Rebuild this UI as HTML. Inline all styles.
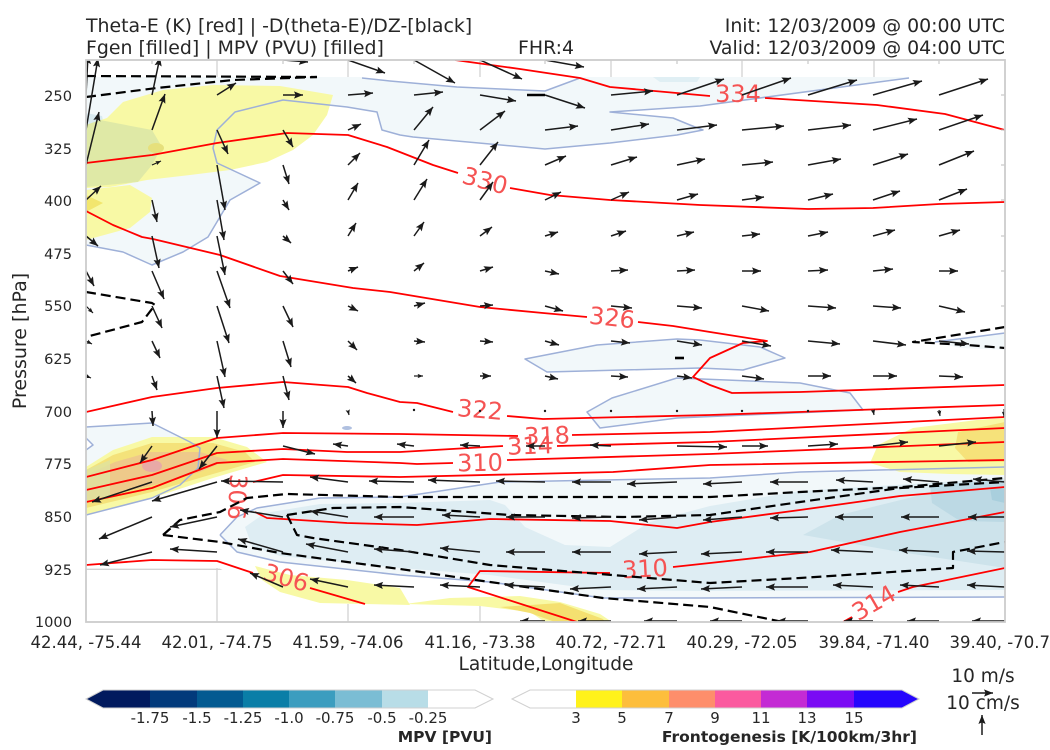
<!DOCTYPE html>
<html><head><meta charset="utf-8"><style>
html,body{margin:0;padding:0;background:#fff;}
svg{display:block;overflow:hidden;}
text{font-family:"DejaVu Sans","Liberation Sans",sans-serif;fill:#262626;}
</style></head><body>
<svg width="1050" height="750" viewBox="0 0 1050 750" xmlns="http://www.w3.org/2000/svg">
<defs>
<clipPath id="pc"><rect x="86" y="60" width="919" height="562"/></clipPath>
<marker id="ah" viewBox="-10 -5 10 10" refX="0" refY="0" markerWidth="10" markerHeight="10" markerUnits="userSpaceOnUse" orient="auto"><path d="M0,0 L-9,-3.6 L-7.4,0 L-9,3.6 Z" fill="#1a1a1a"/></marker>
<marker id="ahs" viewBox="-10 -5 10 10" refX="0" refY="0" markerWidth="6" markerHeight="6" markerUnits="userSpaceOnUse" orient="auto"><path d="M0,0 L-9,-3.6 L-7.4,0 L-9,3.6 Z" fill="#1a1a1a"/></marker>
</defs>
<rect width="1050" height="750" fill="#fff"/>

<!-- grid -->
<g stroke="#d2d2d2" stroke-width="1.3">
<line x1="217" y1="60" x2="217" y2="622"/><line x1="348" y1="60" x2="348" y2="622"/><line x1="480" y1="60" x2="480" y2="622"/><line x1="611" y1="60" x2="611" y2="622"/><line x1="742" y1="60" x2="742" y2="622"/><line x1="874" y1="60" x2="874" y2="622"/>
<line x1="86" y1="569.3" x2="1005" y2="569.3"/>
</g>
<!-- data area (white fill) -->
<path d="M86,77 L1005,77 L1005,622 L580,622 L545,615 L480,605 L348,604 L283,598 L250,586 L219,568 L86,568 Z" fill="#fff"/>

<g clip-path="url(#pc)">
<!-- MPV fills -->
<g fill="#f2f8fa">
<path d="M86,77 L362,77 L362,78 L390,81 L457,87 L545,91 L580,78 L580,77 L909,77 L909,78 L700,106 L610,112 L673,118 L690,125 L703,130 L677,135 L610,143 L545,149 L413,137 L400,135 L382,130 L377,112 L347,107 L283,100 L235,112 L217,130 L213,148 L217,163 L260,183 L230,200 L208,237 L183,252 L152,265 L123,252 L86,245 Z"/>
<path d="M86,427 L152,423 L190,442 L200,448 L198,468 L180,485 L152,498 L86,515 L86,450 L93,445 L86,438 Z"/>
<path d="M220,535 L237,517 L257,508 L320,498 L400,497 L500,482 L710,478 L800,472 L1005,467 L1005,597 L700,598 L603,598 L490,582 L400,575 L280,562 L237,552 Z"/>
<path d="M525,359 L597,345 L677,339 L700,340 L760,347 L785,358 L743,370 L700,368 L547,372 Z"/>
<path d="M587,412 L612,398 L677,378 L800,383 L850,393 L863,410 L700,417 L677,418 L600,428 Z"/>
<path d="M935,342 L1005,333 L1005,350 L960,348 Z"/>
</g>
<path d="M653,77 L700,77 L697,82 L660,82 Z" fill="#e0eff4"/>
<path d="M86,113 L102,116 L104,124 L86,128 Z" fill="#d8eaf0"/>
<!-- mid shades lower region -->
<path d="M245,527 L265,513 L320,504 L400,503 L490,500 L505,505 L525,527 L565,545 L610,547 L650,522 L710,506 L800,491 L1005,478 L1005,590 L700,591 L600,590 L490,575 L400,568 L280,556 L252,546 Z" fill="#deedf3"/>
<path d="M803,535 L840,515 L933,492 L1005,482 L1005,568 L900,552 Z" fill="#cde3eb"/>
<path d="M930,485 L1005,480 L1005,522 L960,521 L932,503 Z" fill="#bcd9e4"/>
<path d="M990,488 L1005,486 L1005,503 L992,500 Z" fill="#a9cfdd"/>
<ellipse cx="347" cy="428" rx="5" ry="2" fill="#b0c0e0"/>

<!-- Fgen fills (yellow) -->
<g fill="#f8f9a5">
<path d="M86,188 L86,125 L107,118 L123,102 L163,90 L213,85 L280,86 L333,95 L327,115 L313,135 L293,150 L267,162 L230,170 L190,175 L147,180 L110,187 Z"/>
<path d="M86,190 L130,185 L152,198 L150,212 L130,228 L86,240 Z"/>
<path d="M86,467 L113,450 L152,437 L213,437 L247,447 L267,462 L213,478 L152,498 L86,515 Z"/>
<path d="M870,463 L878,445 L913,428 L977,420 L1005,418 L1005,475 L950,474 L900,472 Z"/>
<path d="M255,566 L290,575 L347,580 L400,588 L410,605 L320,603 L280,592 L262,580 Z"/>
<path d="M405,604 L450,598 L520,596 L560,602 L600,614 L612,622 L545,622 L530,612 L480,606 Z"/>
</g>
<path d="M86,125 L100,120 L152,130 L162,147 L152,165 L138,182 L86,187 Z" fill="#dfe9a6"/>
<ellipse cx="156" cy="148" rx="8" ry="5" fill="#e6e07c"/>
<path d="M86,195 L103,203 L86,212 Z" fill="#f2e66e"/>
<path d="M86,470 L113,455 L152,443 L213,443 L245,452 L255,462 L213,474 L152,492 L86,508 Z" fill="#f4e27a"/>
<path d="M86,475 L115,462 L150,452 L200,452 L228,460 L200,472 L150,486 L110,495 L86,500 Z" fill="#eec98a"/>
<path d="M86,470 L110,460 L110,496 L86,502 Z" fill="#dfe3a0" opacity="0.8"/>
<ellipse cx="152" cy="466" rx="10" ry="6" fill="#e8a9a6"/>
<path d="M958,432 L1005,422 L1005,462 L968,462 L955,448 Z" fill="#f6e27a"/>
<path d="M500,607 L560,603 L603,619 L605,622 L555,622 L530,613 Z" fill="#f4e070"/>

<!-- MPV outlines -->
<g fill="none" stroke="#9eb0d8" stroke-width="1.5" stroke-linejoin="round">
<path d="M362,78 L390,81 L457,87 L545,91 L580,78"/>
<path d="M909,78 L700,106 L610,112 L673,118 L690,125 L703,130 L677,135 L610,143 L545,149 L413,137 L400,135 L382,130 L377,112 L347,107 L283,100 L235,112 L217,130 L213,148 L217,163 L260,183 L230,200 L208,237 L183,252 L152,265 L123,252 L86,245"/>
<path d="M86,427 L152,423 L190,442 L200,448 L198,468 L180,485 L152,498 L86,515"/>
<path d="M86,438 L93,445 L86,450"/>
<path d="M220,535 L237,517 L257,508 L320,498 L400,497 L500,482 L710,478 L800,472 L1005,467"/>
<path d="M220,535 L237,552 L280,562 L400,575 L490,582 L603,598 L700,598 L1005,597"/>
<path d="M525,359 L597,345 L677,339 L700,340 L760,347 L785,358 L743,370 L700,368 L547,372 Z"/>
<path d="M587,412 L612,398 L677,378 L800,383 L850,393 L863,410 L700,417 L677,418 L600,428 Z"/>
<path d="M935,342 L1005,333"/>
</g>

<!-- red theta-e contours -->
<g fill="none" stroke="#ff0000" stroke-width="1.8" stroke-linejoin="round">
<path d="M455,60 L520,69 L580,78 L610,87 L710,96"/>
<path d="M765,98 L877,105 L945,114 L1005,130"/>
<path d="M86,163 L152,155 L217,143 L287,133 L348,135 L387,147 L433,165 L458,173"/>
<path d="M510,188 L550,195 L610,200 L700,205 L808,209 L873,208 L939,204 L1005,202"/>
<path d="M86,211 L113,225 L142,237 L153,239 L220,255 L280,276 L353,288 L390,292 L480,307 L543,313 L587,317"/>
<path d="M638,322 L673,326 L710,332 L767,341 L743,343 L710,358 L693,377 L710,385 L732,393 L800,392 L1005,385"/>
<path d="M86,412 L152,397 L217,388 L283,382 L348,387 L367,393 L400,402 L417,403 L453,412"/>
<path d="M507,416 L543,419 L710,415 L1005,405"/>
<path d="M86,477 L152,460 L217,438 L283,433 L400,434 L518,436"/>
<path d="M572,435 L710,432 L1005,417"/>
<path d="M86,490 L152,475 L217,453 L283,449 L347,452 L400,452 L503,446"/>
<path d="M557,446 L710,442 L1005,428"/>
<path d="M86,502 L152,488 L217,463 L283,459 L400,463 L417,464 L453,463"/>
<path d="M507,460 L710,454 L1005,442"/>
<path d="M253,482 L283,475 L400,477 L613,472 L710,465 L1005,460"/>
<path d="M255,512 L267,518 L347,523 L417,525 L490,519 L610,521 L677,528 L710,522 L800,510 L900,496 L1005,487"/>
<path d="M577,622 L468,587 L480,571 L610,573"/>
<path d="M673,567 L710,563 L810,552 L900,532 L1005,512"/>
<path d="M86,565 L152,560 L217,561 L253,573"/>
<path d="M310,588 L365,604"/>
<path d="M843,622 L852,617"/>
<path d="M898,592 L913,587 L1005,568"/>
</g>
<g font-size="24" text-anchor="middle" dominant-baseline="central" style="fill:#f55353">
<text x="738" y="94" style="fill:#f55353">334</text>
<text x="485" y="181" transform="rotate(15 485 181)" style="fill:#f55353">330</text>
<text x="612" y="318" transform="rotate(6 612 318)" style="fill:#f55353">326</text>
<text x="480" y="410" transform="rotate(5 480 410)" style="fill:#f55353">322</text>
<text x="547" y="436" transform="rotate(-2 547 436)" style="fill:#f55353">318</text>
<text x="530" y="446" transform="rotate(-2 530 446)" style="fill:#f55353">314</text>
<text x="480" y="463" transform="rotate(-1 480 463)" style="fill:#f55353">310</text>
<text x="237" y="497" transform="rotate(93 237 497)" style="fill:#f55353">306</text>
<text x="286" y="578" transform="rotate(16 286 578)" style="fill:#f55353">306</text>
<text x="645" y="569" transform="rotate(-3 645 569)" style="fill:#f55353">310</text>
<text x="874" y="603" transform="rotate(-30 874 603)" style="fill:#f55353">314</text>
</g>

<!-- black dashed contours -->
<g fill="none" stroke="#000" stroke-width="2.2" stroke-dasharray="10,5" stroke-linejoin="round">
<path d="M86,76 L317,77"/>
<path d="M86,97 L157,88 L233,80 L317,77"/>
<path d="M86,292 L152,303 L155,305 L142,322 L86,337"/>
<path d="M1005,327 L913,342 L967,345 L1005,348"/>
<path d="M163,535 L180,520 L220,512 L247,498 L287,494 L400,497 L710,497 L800,492 L903,487 L1005,478"/>
<path d="M163,535 L220,542 L280,553 L347,562 L400,569 L490,582 L603,598 L710,607 L783,622"/>
<path d="M287,515 L333,508 L400,507 L510,515 L623,517 L710,515 L800,502 L900,488 L1005,482"/>
<path d="M287,515 L297,535 L313,538 L400,550 L490,565 L710,583 L800,578 L953,568 L953,552 L1005,542"/>
</g>
<g stroke="#000" stroke-width="2.6">
<line x1="527" y1="95" x2="545" y2="95"/>
<line x1="675" y1="358" x2="684" y2="358"/>
</g>

<!-- arrows -->
<g fill="none" stroke="#1a1a1a" stroke-width="1.5" marker-end="url(#ah)">
<path d="M283 60l25 2"/><path d="M348 60l37 13"/><path d="M414 60l41 23"/><path d="M480 60l42 19"/><path d="M545 60l39 7"/>
<path d="M86 95l2 -40"/><path d="M152 95l8 -38"/><path d="M217 95l19 -12"/><path d="M283 95l20 0"/><path d="M348 95l25 -2"/><path d="M414 95l29 -3"/><path d="M480 95l36 6"/><path d="M545 95l40 13"/><path d="M611 95l42 -4"/><path d="M677 95l47 -16"/><path d="M742 95l49 -17"/><path d="M808 95l49 -15"/><path d="M873 95l49 -14"/><path d="M939 95l49 -16"/>
<path d="M86 130l12 -72"/><path d="M152 130l13 -36"/><path d="M217 130l11 24"/><path d="M283 130l10 17"/><path d="M348 130l13 -6"/><path d="M414 130l19 -23"/><path d="M480 130l25 -19"/><path d="M545 130l33 -4"/><path d="M611 130l38 -6"/><path d="M677 130l40 -5"/><path d="M742 130l42 -4"/><path d="M808 130l43 -5"/><path d="M873 130l44 -11"/><path d="M939 130l44 -15"/>
<path d="M86 165l13 -53"/><path d="M217 165l8 45"/><path d="M283 165l6 19"/><path d="M348 165l12 -12"/><path d="M414 165l15 -25"/><path d="M480 165l18 -23"/><path d="M545 165l21 -9"/><path d="M611 165l26 -8"/><path d="M677 165l28 -6"/><path d="M742 165l31 -3"/><path d="M808 165l33 -6"/><path d="M873 165l35 -11"/><path d="M939 165l35 -14"/>
<path d="M86 200l15 -14"/><path d="M152 200l5 22"/><path d="M217 200l7 40"/><path d="M283 200l6 10"/><path d="M348 200l10 -17"/><path d="M414 200l13 -21"/><path d="M480 200l13 -18"/><path d="M545 200l16 -8"/><path d="M611 200l18 -8"/><path d="M677 200l21 -6"/><path d="M742 200l22 -3"/><path d="M808 200l25 -6"/><path d="M873 200l27 -9"/><path d="M939 200l28 -11"/>
<path d="M86 236l12 10"/><path d="M152 236l7 32"/><path d="M217 236l8 39"/><path d="M283 236l8 7"/><path d="M348 236l8 -13"/><path d="M414 236l10 -14"/><path d="M480 236l12 -9"/><path d="M545 236l13 -4"/><path d="M611 236l15 -5"/><path d="M677 236l17 -4"/><path d="M742 236l18 -2"/><path d="M808 236l20 -4"/><path d="M873 236l22 -6"/><path d="M939 236l21 -6"/>
<path d="M86 271l8 15"/><path d="M152 271l12 28"/><path d="M217 271l13 37"/><path d="M283 271l10 13"/><path d="M348 271l10 -4"/><path d="M414 271l10 -8"/><path d="M480 271l13 -4"/><path d="M545 271l14 3"/><path d="M611 271l17 -1"/><path d="M677 271l18 -1"/><path d="M742 271l19 0"/><path d="M808 271l20 -1"/><path d="M873 271l20 -2"/><path d="M939 271l19 0"/>
<path d="M152 306l10 22"/><path d="M217 306l12 37"/><path d="M283 306l10 21"/><path d="M348 306l10 5"/><path d="M414 306l11 -3"/><path d="M480 306l13 -1"/><path d="M545 306l18 5"/><path d="M611 306l21 2"/><path d="M677 306l25 2"/><path d="M742 306l27 5"/><path d="M808 306l28 2"/><path d="M873 306l28 2"/><path d="M939 306l26 6"/>
<path d="M152 341l8 17"/><path d="M217 341l8 36"/><path d="M283 341l8 26"/><path d="M348 341l9 9"/><path d="M414 341l11 1"/><path d="M480 341l13 1"/><path d="M545 341l14 4"/><path d="M611 341l19 2"/><path d="M677 341l25 4"/><path d="M742 341l29 5"/><path d="M808 341l32 3"/><path d="M873 341l33 4"/><path d="M939 341l30 3"/>
<path d="M152 376l5 14"/><path d="M217 376l7 32"/><path d="M283 376l6 24"/><path d="M348 376l8 7"/><path d="M480 376l11 0"/><path d="M545 376l13 3"/><path d="M611 376l17 1"/><path d="M677 376l15 2"/><path d="M742 376l22 3"/><path d="M808 376l23 0"/><path d="M873 376l24 0"/><path d="M939 376l24 1"/>
<path d="M152 411l1 15"/><path d="M217 411l0 27"/><path d="M283 411l0 17"/>
<path d="M152 446l-12 17"/><path d="M217 446l-18 23"/><path d="M283 446l32 8"/><path d="M348 446l-15 -2"/><path d="M414 446l-17 -2"/><path d="M480 446l-20 -1"/><path d="M545 446l-19 0"/><path d="M611 446l-21 -1"/><path d="M677 446l50 1"/><path d="M742 446l26 0"/><path d="M808 446l30 -2"/><path d="M873 446l35 -4"/><path d="M939 446l37 -4"/>
<path d="M152 482l-60 20"/><path d="M217 482l-65 19"/><path d="M283 482l-62 -1"/><path d="M348 482l-38 -5"/><path d="M414 482l-45 -1"/><path d="M480 482l-52 -2"/><path d="M545 482l-49 -1"/><path d="M611 482l-39 0"/><path d="M677 482l-50 2"/><path d="M742 482l-39 2"/><path d="M808 482l-38 0"/><path d="M873 482l-37 -2"/><path d="M939 482l-36 -3"/><path d="M1005 482l-32 -3"/>
<path d="M152 517l-53 22"/><path d="M217 517l-47 10"/><path d="M283 517l-43 -7"/><path d="M348 517l-38 -6"/><path d="M414 517l-40 0"/><path d="M480 517l-38 -2"/><path d="M545 517l-39 0"/><path d="M611 517l-39 1"/><path d="M677 517l-38 3"/><path d="M742 517l-39 3"/><path d="M808 517l-38 1"/><path d="M873 517l-38 0"/><path d="M939 517l-38 0"/><path d="M1005 517l-37 0"/>
<path d="M152 552l-52 13"/><path d="M217 552l-47 -3"/><path d="M283 552l-45 -13"/><path d="M348 552l-42 -8"/><path d="M414 552l-40 -3"/><path d="M480 552l-40 -4"/><path d="M545 552l-39 0"/><path d="M611 552l-39 0"/><path d="M677 552l-38 2"/><path d="M742 552l-41 2"/><path d="M808 552l-42 0"/><path d="M873 552l-42 -2"/><path d="M939 552l-40 -2"/><path d="M1005 552l-38 -1"/>
<path d="M283 587l-33 -14"/><path d="M348 587l-38 -8"/><path d="M414 587l-40 -2"/><path d="M480 587l-40 -2"/><path d="M545 587l-40 -2"/><path d="M611 587l-41 2"/><path d="M677 587l-40 2"/><path d="M742 587l-41 2"/><path d="M808 587l-42 0"/><path d="M873 587l-40 -2"/><path d="M939 587l-39 -2"/><path d="M1005 587l-38 -2"/>
<path d="M545 621l-25 0"/><path d="M611 621l-33 0"/><path d="M677 621l-33 0"/><path d="M742 621l-32 0"/><path d="M808 621l-31 0"/><path d="M873 621l-29 0"/><path d="M939 621l-32 0"/><path d="M1005 621l-33 0"/>
</g>
<g fill="none" stroke="#1a1a1a" stroke-width="1.2" marker-end="url(#ahs)">
<path d="M152 165l9 -4"/><path d="M86 306l7 7"/><path d="M86 341l6 3"/><path d="M86 376l5 2"/><path d="M414 376l9 0"/><path d="M348 411l1 4"/><path d="M873 410l1 5"/><path d="M939 410l1 6"/><path d="M1004 409l0 8"/>
</g>
<g fill="#1a1a1a">
<circle cx="414" cy="410" r="1.2"/><circle cx="480" cy="411" r="1.2"/><circle cx="545" cy="411" r="1.2"/><circle cx="611" cy="411" r="1.2"/><circle cx="677" cy="411" r="1.2"/><circle cx="742" cy="411" r="1.2"/><circle cx="808" cy="411" r="1.2"/>
</g>
</g>

<!-- spines & small ticks -->
<g stroke="#bdbdbd" stroke-width="1">
<line x1="152" y1="60" x2="152" y2="64"/><line x1="283" y1="60" x2="283" y2="64"/><line x1="414" y1="60" x2="414" y2="64"/><line x1="545" y1="60" x2="545" y2="64"/><line x1="677" y1="60" x2="677" y2="64"/><line x1="808" y1="60" x2="808" y2="64"/><line x1="939" y1="60" x2="939" y2="64"/>
<line x1="1001" y1="95" x2="1005" y2="95"/><line x1="1001" y1="130" x2="1005" y2="130"/><line x1="1001" y1="165" x2="1005" y2="165"/><line x1="1001" y1="200" x2="1005" y2="200"/><line x1="1001" y1="236" x2="1005" y2="236"/><line x1="1001" y1="271" x2="1005" y2="271"/><line x1="1001" y1="306" x2="1005" y2="306"/>
</g>
<rect x="86" y="60" width="919" height="562" fill="none" stroke="#cccccc" stroke-width="1.8"/>

<!-- titles -->
<g font-size="18.9">
<text x="86" y="32">Theta-E (K) [red] | -D(theta-E)/DZ-[black]</text>
<text x="86" y="54">Fgen [filled] | MPV (PVU) [filled]</text>
<text x="546" y="54" text-anchor="middle">FHR:4</text>
<text x="1005" y="32" text-anchor="end">Init: 12/03/2009 @ 00:00 UTC</text>
<text x="1005" y="54" text-anchor="end">Valid: 12/03/2009 @ 04:00 UTC</text>
</g>

<!-- y ticks -->
<g font-size="14.6" text-anchor="end">
<text x="72" y="101">250</text><text x="72" y="154">325</text><text x="72" y="206">400</text><text x="72" y="259">475</text><text x="72" y="311">550</text><text x="72" y="364">625</text><text x="72" y="417">700</text><text x="72" y="469">775</text><text x="72" y="522">850</text><text x="72" y="575">925</text><text x="72" y="627">1000</text>
</g>
<!-- x ticks -->
<g font-size="16.5" text-anchor="middle">
<text x="86" y="648">42.44, -75.44</text><text x="217" y="648">42.01, -74.75</text><text x="348" y="648">41.59, -74.06</text><text x="480" y="648">41.16, -73.38</text><text x="611" y="648">40.72, -72.71</text><text x="742" y="648">40.29, -72.05</text><text x="874" y="648">39.84, -71.40</text><text x="1005" y="648">39.40, -70.74</text>
</g>
<text x="546" y="670" font-size="18.6" text-anchor="middle">Latitude,Longitude</text>
<text transform="translate(26 341) rotate(-90)" font-size="19" text-anchor="middle">Pressure [hPa]</text>

<!-- MPV colorbar -->
<path d="M86,699 L103,690 L150,690 L150,708 L103,708 Z" fill="#011a5e"/>
<rect x="150" y="690" width="47" height="18" fill="#023a7b"/>
<rect x="197" y="690" width="46" height="18" fill="#035a91"/>
<rect x="243" y="690" width="46" height="18" fill="#0a7ea7"/>
<rect x="289" y="690" width="46" height="18" fill="#3b9dbf"/>
<rect x="335" y="690" width="47" height="18" fill="#7bbdd4"/>
<rect x="382" y="690" width="46" height="18" fill="#b8dde7"/>
<path d="M86,699 L103,690 L475,690 L493,699 L475,708 L103,708 Z" fill="none" stroke="#d0d0d0" stroke-width="1"/>
<g font-size="15" text-anchor="middle">
<text x="150" y="723">-1.75</text><text x="197" y="723">-1.5</text><text x="243" y="723">-1.25</text><text x="289" y="723">-1.0</text><text x="335" y="723">-0.75</text><text x="382" y="723">-0.5</text><text x="428" y="723">-0.25</text>
</g>
<text x="492" y="742" font-size="15.5" font-weight="bold" text-anchor="end">MPV [PVU]</text>

<!-- Fgen colorbar -->
<rect x="576" y="690" width="46" height="18" fill="#fff21b"/>
<rect x="622" y="690" width="47" height="18" fill="#fdbe3c"/>
<rect x="669" y="690" width="46" height="18" fill="#fe8e6b"/>
<rect x="715" y="690" width="46" height="18" fill="#fb5a9f"/>
<rect x="761" y="690" width="46" height="18" fill="#c42bd4"/>
<rect x="807" y="690" width="47" height="18" fill="#7a0bf4"/>
<path d="M854,690 L902,690 L919,699 L902,708 L854,708 Z" fill="#2506fd"/>
<path d="M512,699 L530,690 L902,690 L919,699 L902,708 L530,708 Z" fill="none" stroke="#d0d0d0" stroke-width="1"/>
<g font-size="15" text-anchor="middle">
<text x="576" y="723">3</text><text x="622" y="723">5</text><text x="669" y="723">7</text><text x="715" y="723">9</text><text x="761" y="723">11</text><text x="807" y="723">13</text><text x="854" y="723">15</text>
</g>
<text x="917" y="742" font-size="15.5" font-weight="bold" text-anchor="end">Frontogenesis [K/100km/3hr]</text>

<!-- quiver key -->
<text x="983" y="682" font-size="18.5" text-anchor="middle">10 m/s</text>
<text x="983" y="709" font-size="18.5" text-anchor="middle">10 cm/s</text>
<g fill="none" stroke="#1a1a1a" stroke-width="1.5" marker-end="url(#ah)">
<path d="M972 693l21 0"/>
<path d="M982 735l0 -20"/>
</g>
</svg>
</body></html>
